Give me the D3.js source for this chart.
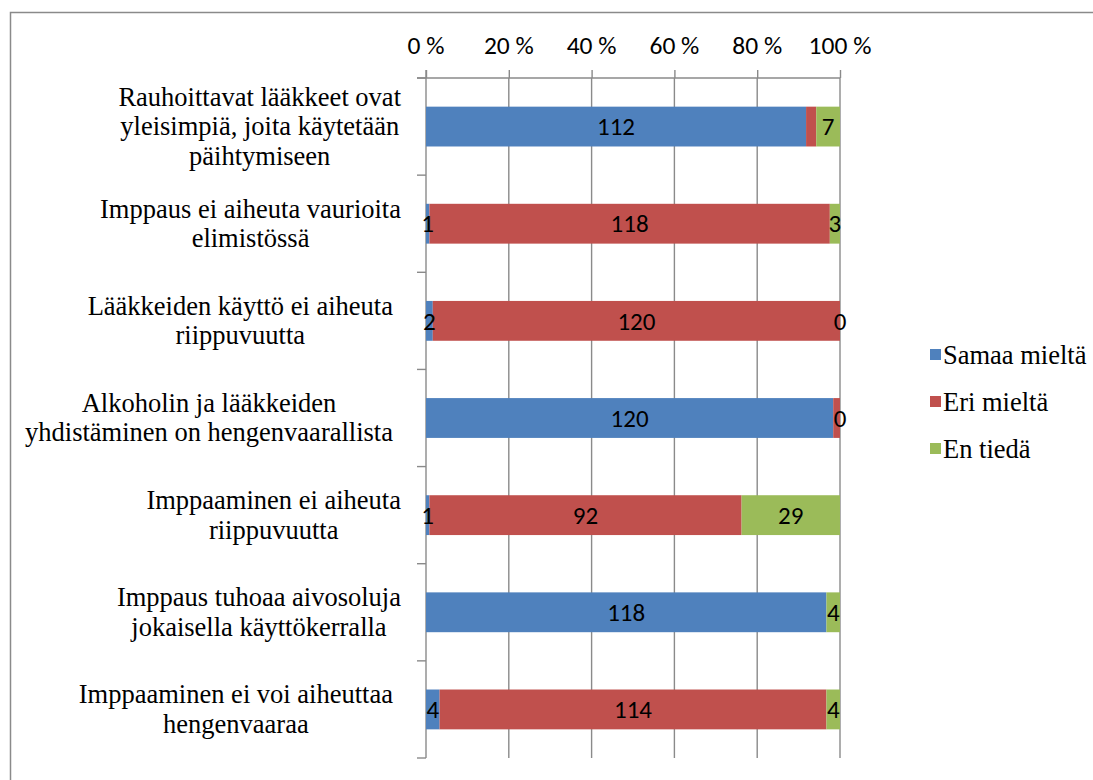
<!DOCTYPE html>
<html>
<head>
<meta charset="utf-8">
<script src="https://cdn.jsdelivr.net/npm/d3@7"></script>
</head>
<body style="margin:0">
<svg id="chart" width="1093" height="780" style="display:block"></svg>
<script>
// Statements, top to bottom, with their line breaks
const categories = [
  "Rauhoittavat lääkkeet ovat\nyleisimpiä, joita käytetään\npäihtymiseen",
  "Imppaus ei aiheuta vaurioita\nelimistössä",
  "Lääkkeiden käyttö ei aiheuta\nriippuvuutta",
  "Alkoholin ja lääkkeiden\nyhdistäminen on hengenvaarallista",
  "Imppaaminen ei aiheuta\nriippuvuutta",
  "Imppaus tuhoaa aivosoluja\njokaisella käyttökerralla",
  "Imppaaminen ei voi aiheuttaa\nhengenvaaraa"
];

const seriesNames = ["Samaa mieltä", "Eri mieltä", "En tiedä"];
const samaaMielta = [112, 1, 2, 120, 1, 118, 4];
const eriMielta   = [3, 118, 120, 2, 92, 0, 114];
const enTieda     = [7, 3, 0, 0, 29, 4, 4];

// Value labels that are left out of the chart: [series index, row index]
const hiddenLabels = [[1, 0], [1, 3], [1, 5]];

const tickValues = [0, 0.2, 0.4, 0.6, 0.8, 1];
const tickLabels = ["0 %", "20 %", "40 %", "60 %", "80 %", "100 %"];

const colors = ["#4F81BD", "#C0504D", "#9BBB59"];

const SERIF = '"Liberation Serif"';
const SANS = '"Carlito"';

const svg = d3.select("#chart");

// All texts sit directly on the svg root
function addText(str, xPos, yPos, family, size, anchor) {
  return svg.append("text")
    .style("font-family", family)
    .style("font-size", size + "px")
    .attr("x", xPos)
    .attr("y", yPos)
    .attr("text-anchor", anchor)
    .text(str);
}

// Chart area frame
svg.append("rect")
  .attr("x", 10.5).attr("y", 12.5)
  .attr("width", 1200).attr("height", 900)
  .attr("fill", "none")
  .attr("stroke", "#8a8a8a")
  .attr("stroke-width", 1.5);

const plot = { left: 426, right: 840, top: 78, bottom: 758 };

const rows = categories.map((c, i) => ({
  cat: c,
  "Samaa mieltä": samaaMielta[i],
  "Eri mieltä": eriMielta[i],
  "En tiedä": enTieda[i]
}));

const stack = d3.stack().keys(seriesNames).offset(d3.stackOffsetExpand);
const layers = stack(rows);

const x = d3.scaleLinear().domain([0, 1]).range([plot.left, plot.right]);
const y = d3.scaleBand().domain(categories).range([plot.top, plot.bottom])
  .paddingInner(0.59).paddingOuter(0.295);

const gridColor = "#8a8a8a";

// Vertical gridlines
svg.append("g")
  .selectAll("line")
  .data(tickValues.slice(1))
  .join("line")
  .attr("x1", d => x(d)).attr("x2", d => x(d))
  .attr("y1", plot.top).attr("y2", plot.bottom)
  .attr("stroke", gridColor)
  .attr("stroke-width", 1.4);

// Top value axis: tick marks from d3.axisTop, labels placed on the root
const xAxis = d3.axisTop(x)
  .tickValues(tickValues)
  .tickFormat((d, i) => tickLabels[i])
  .tickSize(8)
  .tickSizeOuter(0);

const gx = svg.append("g")
  .attr("transform", `translate(0,${plot.top})`)
  .call(xAxis);
gx.select(".domain").remove();
gx.selectAll(".tick text").remove();
gx.append("line")
  .attr("x1", plot.left - 9).attr("x2", plot.right)
  .attr("y1", 0).attr("y2", 0)
  .attr("stroke", gridColor).attr("stroke-width", 1.4);
gx.selectAll(".tick line").attr("stroke", gridColor).attr("stroke-width", 1.4);

tickValues.forEach((v, i) => {
  addText(tickLabels[i], x(v), plot.top - 24, SANS, 25.5, "middle");
});

// Left category axis line with ticks on band boundaries
const boundaries = d3.range(categories.length + 1)
  .map(i => plot.top + i * y.step());
svg.append("line")
  .attr("x1", plot.left).attr("x2", plot.left)
  .attr("y1", plot.top - 8).attr("y2", plot.bottom)
  .attr("stroke", gridColor).attr("stroke-width", 1.4);
svg.append("g")
  .selectAll("line")
  .data(boundaries)
  .join("line")
  .attr("x1", plot.left - 9).attr("x2", plot.left)
  .attr("y1", d => d).attr("y2", d => d)
  .attr("stroke", gridColor).attr("stroke-width", 1.4);

// Stacked bars
const layerG = svg.append("g")
  .selectAll("g")
  .data(layers)
  .join("g")
  .attr("fill", (d, i) => colors[i]);

layerG.selectAll("rect")
  .data(d => d)
  .join("rect")
  .attr("x", d => x(d[0]))
  .attr("y", d => y(d.data.cat))
  .attr("width", d => Math.max(0, x(d[1]) - x(d[0])))
  .attr("height", y.bandwidth());

// Value labels
const isHidden = (s, r) => hiddenLabels.some(h => h[0] === s && h[1] === r);
layers.forEach((layer, s) => {
  layer.forEach((d, r) => {
    if (isHidden(s, r)) return;
    addText(d.data[seriesNames[s]],
      (x(d[0]) + x(d[1])) / 2,
      y(d.data.cat) + y.bandwidth() / 2,
      SANS, 25, "middle")
      .attr("dy", "0.35em");
  });
});

// Category labels: one text per line; each block right-aligned,
// lines centred within it; blocks wider than the label column sit a
// little further from the axis
const labelRight = 401;
const labelColumn = 305;
const lineHeight = 29.5;

categories.forEach(c => {
  const lines = c.split("\n");
  const cy = y(c) + y.bandwidth() / 2;
  const firstY = cy - (lines.length - 1) * lineHeight / 2;
  const texts = lines.map((ln, i) =>
    addText(ln, 0, firstY + i * lineHeight, SERIF, 26.5, "middle")
      .attr("dy", "0.33em"));
  const maxW = d3.max(texts, t => t.node().getComputedTextLength());
  const right = maxW > labelColumn ? labelRight - 8 : labelRight;
  texts.forEach(t => t.attr("x", right - maxW / 2));
});

// Legend
seriesNames.forEach((name, i) => {
  const ly = 355 + i * 47;
  svg.append("rect")
    .attr("x", 930).attr("y", ly - 6)
    .attr("width", 11).attr("height", 11)
    .attr("fill", colors[i]);
  addText(name, 943, ly, SERIF, 26.5, "start").attr("dy", "0.33em");
});
</script>
</body>
</html>
